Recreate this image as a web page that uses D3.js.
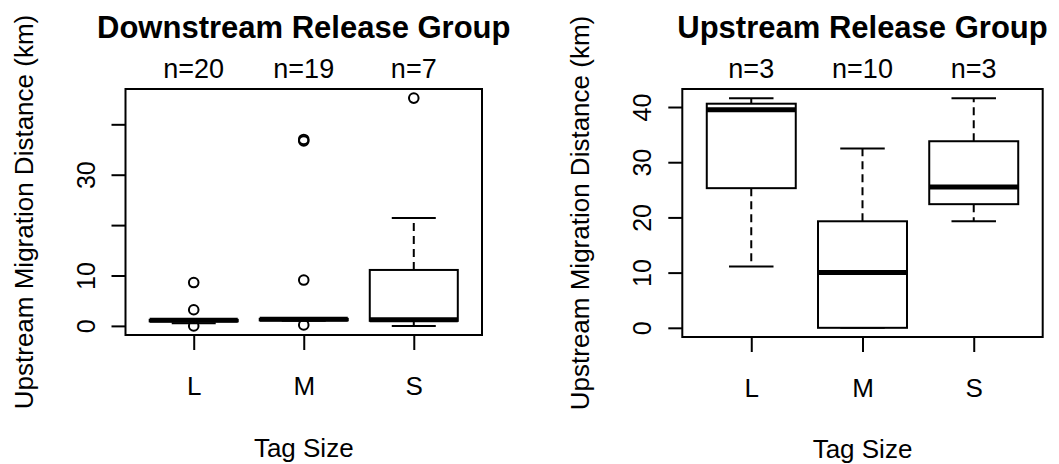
<!DOCTYPE html>
<html>
<head>
<meta charset="utf-8">
<script src="https://cdn.jsdelivr.net/npm/d3@7"></script>
<style>
  html, body { margin: 0; padding: 0; background: #fff; }
  svg { display: block; }
  text { font-family: "Liberation Sans", Arial, sans-serif; fill: #000; }
</style>
</head>
<body>
<svg id="chart" width="1059" height="464"></svg>
<script>
// ---------- data ----------
const categories = ["L", "M", "S"];

const downTitle = "Downstream Release Group";
const downN = [20, 19, 7];
const downWhiskerLow  = [0.5, 1.0, 0.0];
const downQ1          = [0.9, 1.1, 1.0];
const downMedian      = [1.1, 1.3, 1.2];
const downQ3          = [1.2, 1.4, 11.1];
const downWhiskerHigh = [1.3, 1.5, 21.4];
const downOutliers    = [[0.0, 3.2, 8.6], [0.2, 9.1, 36.7, 37.0], [45.2]];
const downTickValues  = [0, 10, 20, 30, 40];
const downTickLabels  = ["0", "10", "", "30", ""];

const upTitle = "Upstream Release Group";
const upN = [3, 10, 3];
const upWhiskerLow  = [11.1, 0.0, 19.3];
const upQ1          = [25.3, 0.0, 22.4];
const upMedian      = [39.5, 10.0, 25.5];
const upQ3          = [40.6, 19.3, 33.8];
const upWhiskerHigh = [41.6, 32.5, 41.6];
const upOutliers    = [[], [], []];
const upTickValues  = [0, 10, 20, 30, 40];
const upTickLabels  = ["0", "10", "20", "30", "40"];

const xLabel = "Tag Size";
const yLabel = "Upstream Migration Distance (km)";

// ---------- drawing ----------
const svg = d3.select("#chart");

function drawPanel(p) {
  const g = svg.append("g");
  const x = d3.scaleLinear().domain([0.38, 3.62]).range([p.x0, p.x1]);
  const all = [...p.wl, ...p.wh, ...p.out.flat()];
  const lo = d3.min(all), hi = d3.max(all);
  const pad = (hi - lo) * 0.04;
  const y = d3.scaleLinear().domain([lo - pad, hi + pad]).range([p.y1, p.y0]);

  const halfBox = x(1.4) - x(1);
  const halfCap = x(1.2) - x(1);

  const rows = categories.map((c, i) => ({
    c, i, pos: i + 1,
    wl: p.wl[i], q1: p.q1[i], med: p.med[i], q3: p.q3[i], wh: p.wh[i], out: p.out[i]
  }));

  const box = g.selectAll("g.box").data(rows).join("g").attr("class", "box");

  // whiskers (dashed)
  box.append("line")
    .attr("x1", d => x(d.pos)).attr("x2", d => x(d.pos))
    .attr("y1", d => y(d.q3)).attr("y2", d => y(d.wh))
    .attr("stroke", "#000").attr("stroke-width", 2).attr("stroke-dasharray", "8,5");
  box.append("line")
    .attr("x1", d => x(d.pos)).attr("x2", d => x(d.pos))
    .attr("y1", d => y(d.q1)).attr("y2", d => y(d.wl))
    .attr("stroke", "#000").attr("stroke-width", 2).attr("stroke-dasharray", "8,5");
  // caps
  box.append("line")
    .attr("x1", d => x(d.pos) - halfCap).attr("x2", d => x(d.pos) + halfCap)
    .attr("y1", d => y(d.wh)).attr("y2", d => y(d.wh))
    .attr("stroke", "#000").attr("stroke-width", 2);
  box.append("line")
    .attr("x1", d => x(d.pos) - halfCap).attr("x2", d => x(d.pos) + halfCap)
    .attr("y1", d => y(d.wl)).attr("y2", d => y(d.wl))
    .attr("stroke", "#000").attr("stroke-width", 2);
  // box
  box.append("rect")
    .attr("x", d => x(d.pos) - halfBox).attr("width", 2 * halfBox)
    .attr("y", d => y(d.q3)).attr("height", d => Math.max(0.01, y(d.q1) - y(d.q3)))
    .attr("fill", "#fff").attr("stroke", "#000").attr("stroke-width", 2);
  // median
  box.append("line")
    .attr("x1", d => x(d.pos) - halfBox).attr("x2", d => x(d.pos) + halfBox)
    .attr("y1", d => y(d.med)).attr("y2", d => y(d.med))
    .attr("stroke", "#000").attr("stroke-width", 5);
  // outliers
  box.selectAll("circle").data(d => d.out.map(v => ({ pos: d.pos, v })))
    .join("circle")
    .attr("cx", d => x(d.pos)).attr("cy", d => y(d.v)).attr("r", 4.8)
    .attr("fill", "none").attr("stroke", "#000").attr("stroke-width", 2);

  // frame
  g.append("rect")
    .attr("x", p.x0).attr("y", p.y0)
    .attr("width", p.x1 - p.x0).attr("height", p.y1 - p.y0)
    .attr("fill", "none").attr("stroke", "#000").attr("stroke-width", 2);

  // y axis
  const ya = g.append("g").attr("transform", `translate(${p.x0},0)`)
    .call(d3.axisLeft(y).tickValues(p.ticks).tickSize(14).tickSizeOuter(0)
      .tickFormat((d, i) => p.tickLabels[i]));
  ya.select(".domain").remove();
  ya.selectAll(".tick line").attr("stroke", "#000").attr("stroke-width", 2);
  ya.selectAll(".tick text")
    .attr("x", null).attr("dy", null)
    .attr("text-anchor", "middle")
    .attr("transform", "translate(-31,0) rotate(-90)")
    .style("font-size", "25px")
    .style("font-family", "'Liberation Sans', Arial, sans-serif")
    .attr("fill", "#000");

  // x axis
  const xa = g.append("g").attr("transform", `translate(0,${p.y1})`)
    .call(d3.axisBottom(x).tickValues([1, 2, 3]).tickSize(15).tickSizeOuter(0)
      .tickFormat(d => categories[d - 1]));
  xa.select(".domain").remove();
  xa.selectAll(".tick line").attr("stroke", "#000").attr("stroke-width", 2);
  xa.selectAll(".tick text")
    .attr("y", 60).attr("dy", null)
    .style("font-size", "26px")
    .style("font-family", "'Liberation Sans', Arial, sans-serif")
    .attr("fill", "#000");

  // n labels
  g.selectAll("text.nlab").data(rows).join("text").attr("class", "nlab")
    .attr("x", d => x(d.pos)).attr("y", 78)
    .attr("text-anchor", "middle").style("font-size", "27px")
    .text(d => "n=" + p.n[d.i]);

  // title
  g.append("text")
    .attr("x", (p.x0 + p.x1) / 2).attr("y", 38)
    .attr("text-anchor", "middle")
    .style("font-size", "31px").style("font-weight", "bold")
    .text(p.title);

  // x label
  g.append("text")
    .attr("x", (p.x0 + p.x1) / 2).attr("y", p.xLabelY)
    .attr("text-anchor", "middle").style("font-size", "26px")
    .text(xLabel);

  // y label
  g.append("text")
    .attr("transform", `translate(${p.x0 - 93},${(p.y0 + p.y1) / 2}) rotate(-90)`)
    .attr("text-anchor", "middle").style("font-size", "26px")
    .text(yLabel);
}

drawPanel({
  x0: 125.5, x1: 482, y0: 89, y1: 335, xLabelY: 457,
  title: downTitle, n: downN,
  wl: downWhiskerLow, q1: downQ1, med: downMedian, q3: downQ3, wh: downWhiskerHigh, out: downOutliers,
  ticks: downTickValues, tickLabels: downTickLabels
});
drawPanel({
  x0: 682.3, x1: 1042.7, y0: 89, y1: 337, xLabelY: 458,
  title: upTitle, n: upN,
  wl: upWhiskerLow, q1: upQ1, med: upMedian, q3: upQ3, wh: upWhiskerHigh, out: upOutliers,
  ticks: upTickValues, tickLabels: upTickLabels
});
</script>
</body>
</html>
